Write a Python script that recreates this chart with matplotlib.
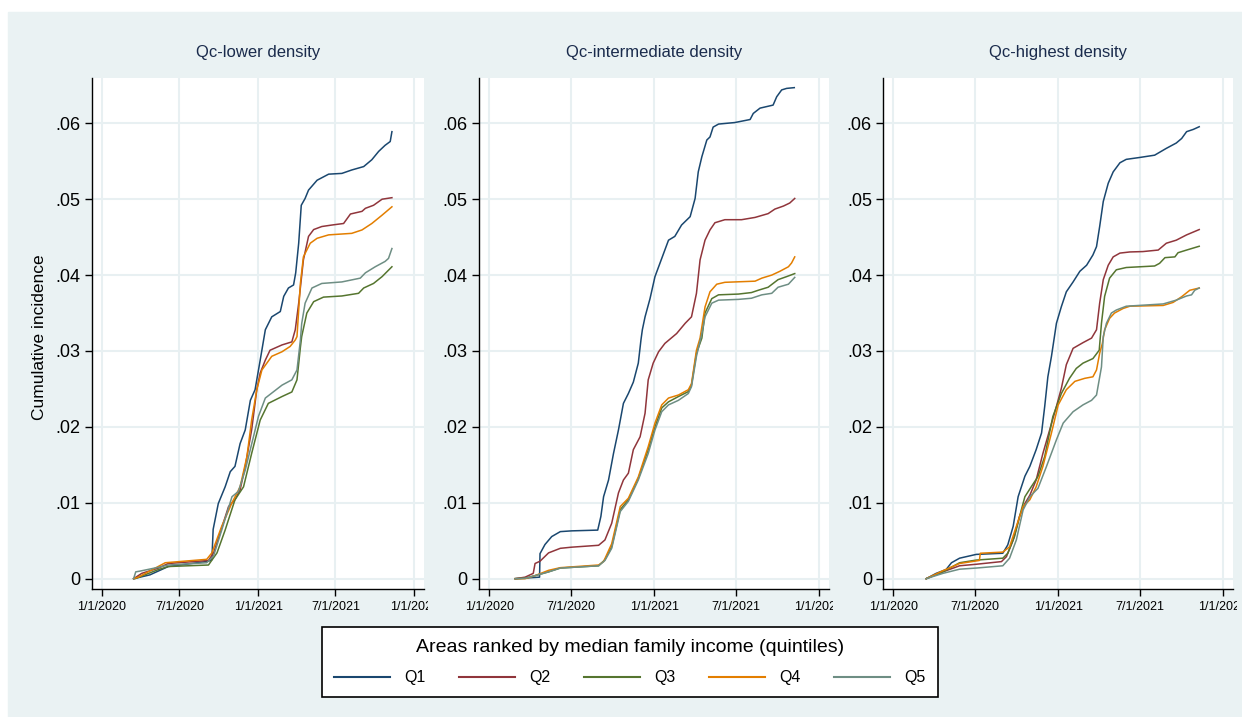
import numpy as np
import matplotlib
matplotlib.use("Agg")
import matplotlib.pyplot as plt
from matplotlib.patches import Rectangle
from matplotlib.transforms import Bbox, TransformedBbox

plt.rcParams['font.family'] = ['Liberation Sans', 'DejaVu Sans']

# panels and series
panel_titles = ["Qc-lower density", "Qc-intermediate density", "Qc-highest density"]
series_names = ["Q1", "Q2", "Q3", "Q4", "Q5"]
series_colors = ["#1a476f", "#90353b", "#55752f", "#e37e00", "#6e8e84"]
legend_title = "Areas ranked by median family income (quintiles)"

# days since 1/1/2020 and cumulative incidence (per 1000)
lower_q1_days = [75, 113, 156, 250, 258, 261, 273, 289, 301, 312, 324, 336, 348, 359, 371, 383, 398, 418, 426, 437, 449, 454, 461, 467, 476, 484, 504, 531, 562, 585, 613, 632, 648, 663, 675, 679]
lower_q1_vals = [0, 0.5, 1.6, 2.3, 2.5, 6.5, 9.9, 12.1, 14.1, 14.8, 17.8, 19.6, 23.5, 24.9, 28.8, 32.8, 34.5, 35.2, 37.2, 38.3, 38.7, 40.3, 44.2, 49.2, 50.1, 51.2, 52.5, 53.3, 53.4, 53.85, 54.3, 55.2, 56.3, 57.1, 57.6, 58.9]
lower_q2_days = [75, 94, 133, 156, 250, 262, 277, 297, 312, 324, 336, 351, 363, 371, 383, 394, 422, 445, 453, 461, 472, 484, 496, 515, 539, 566, 582, 609, 617, 636, 656, 679]
lower_q2_vals = [0, 0.7, 1.4, 2.0, 2.4, 3.4, 6.0, 9.5, 10.4, 11.7, 14.8, 19.6, 24.9, 27.1, 28.8, 30.1, 30.8, 31.2, 32.8, 36.3, 42.0, 45.1, 46.0, 46.4, 46.6, 46.8, 48.05, 48.4, 48.8, 49.2, 50.0, 50.2]
lower_q3_days = [78, 133, 156, 250, 270, 289, 312, 332, 351, 371, 390, 422, 445, 457, 465, 468, 480, 496, 519, 562, 601, 613, 636, 656, 679]
lower_q3_vals = [0, 1.2, 1.6, 1.8, 3.4, 6.4, 10.4, 12.1, 16.5, 20.9, 23.1, 24.0, 24.6, 26.2, 30.5, 31.9, 35.0, 36.5, 37.1, 37.25, 37.6, 38.3, 38.9, 39.8, 41.1]
lower_q4_days = [75, 86, 149, 246, 258, 281, 305, 324, 340, 351, 363, 375, 398, 422, 441, 453, 457, 465, 472, 488, 504, 531, 585, 609, 632, 656, 679]
lower_q4_vals = [0, 0.2, 2.1, 2.55, 3.4, 6.9, 10.0, 12.1, 16.1, 20.9, 24.9, 27.5, 29.3, 29.9, 30.6, 31.45, 31.9, 38.9, 42.4, 44.2, 44.85, 45.3, 45.5, 45.95, 46.8, 47.9, 49.0]
lower_q5_days = [75, 80, 90, 133, 156, 246, 262, 281, 305, 320, 336, 367, 383, 422, 445, 457, 465, 468, 476, 492, 515, 562, 605, 617, 640, 663, 671, 679]
lower_q5_vals = [0, 0.9, 1.0, 1.5, 1.8, 2.1, 3.0, 6.4, 10.8, 11.5, 14.3, 21.4, 23.8, 25.5, 26.2, 27.5, 31.45, 33.6, 36.3, 38.3, 38.9, 39.1, 39.6, 40.3, 41.1, 41.8, 42.2, 43.5]

mid_q1_days = [58, 112, 113, 124, 139, 158, 183, 241, 248, 254, 265, 276, 287, 298, 309, 320, 331, 337, 340, 346, 357, 368, 383, 398, 412, 427, 446, 457, 464, 472, 483, 490, 497, 509, 545, 579, 586, 601, 630, 638, 649, 660, 677]
mid_q1_vals = [0, 0.2, 3.3, 4.5, 5.55, 6.2, 6.3, 6.4, 8.2, 10.8, 13.0, 16.5, 19.6, 23.1, 24.4, 25.9, 28.4, 31.5, 32.8, 34.5, 36.9, 39.8, 42.2, 44.6, 45.1, 46.6, 47.7, 50.1, 53.6, 55.6, 57.8, 58.2, 59.5, 59.9, 60.1, 60.5, 61.3, 62.0, 62.4, 63.5, 64.4, 64.6, 64.7]
mid_q2_days = [58, 80, 98, 102, 113, 132, 158, 183, 243, 257, 272, 287, 298, 309, 320, 335, 346, 353, 364, 376, 390, 416, 435, 449, 460, 468, 479, 490, 501, 523, 560, 590, 619, 634, 653, 667, 678]
mid_q2_vals = [0, 0.2, 0.7, 2.0, 2.3, 3.4, 4.0, 4.15, 4.4, 5.1, 7.3, 11.3, 13.0, 13.9, 17.0, 18.7, 21.8, 26.2, 28.4, 29.9, 31.0, 32.3, 33.65, 34.5, 37.6, 42.0, 44.6, 45.95, 46.9, 47.3, 47.3, 47.6, 48.1, 48.7, 49.1, 49.5, 50.1]
mid_q3_days = [58, 80, 102, 132, 158, 243, 257, 272, 291, 309, 331, 353, 368, 383, 398, 420, 442, 449, 460, 472, 479, 494, 509, 553, 582, 597, 619, 641, 660, 678]
mid_q3_vals = [0, 0.05, 0.4, 0.9, 1.4, 1.7, 2.5, 4.2, 9.1, 10.4, 13.2, 17.0, 20.0, 22.5, 23.3, 24.0, 24.65, 25.5, 29.7, 31.7, 35.0, 36.9, 37.4, 37.5, 37.7, 38.0, 38.4, 39.4, 39.8, 40.2]
mid_q4_days = [58, 80, 102, 132, 158, 243, 254, 272, 291, 309, 331, 353, 368, 383, 398, 420, 442, 449, 460, 468, 479, 490, 505, 523, 590, 605, 627, 645, 664, 671, 678]
mid_q4_vals = [0, 0, 0.4, 1.1, 1.45, 1.8, 2.25, 4.6, 9.5, 10.6, 13.4, 17.4, 20.5, 22.9, 23.8, 24.2, 24.9, 25.7, 30.1, 31.7, 35.8, 37.8, 38.8, 39.05, 39.2, 39.6, 40.0, 40.5, 41.1, 41.6, 42.4]
mid_q5_days = [58, 80, 102, 132, 158, 243, 257, 272, 291, 309, 331, 353, 368, 383, 398, 420, 442, 449, 460, 472, 479, 494, 509, 553, 582, 605, 627, 641, 664, 678]
mid_q5_vals = [0, 0.05, 0.4, 0.9, 1.4, 1.7, 2.4, 4.0, 8.85, 10.2, 13.0, 16.5, 19.6, 22.0, 22.9, 23.5, 24.4, 25.3, 29.3, 32.3, 34.5, 36.3, 36.7, 36.8, 36.95, 37.4, 37.6, 38.4, 38.8, 39.7]

high_q1_days = [73, 95, 117, 129, 147, 184, 243, 254, 266, 277, 292, 303, 317, 329, 336, 343, 351, 362, 373, 384, 399, 414, 429, 443, 451, 458, 466, 477, 488, 503, 517, 547, 580, 606, 628, 640, 651, 666, 679]
high_q1_vals = [0, 0.7, 1.2, 2.1, 2.7, 3.2, 3.35, 4.45, 6.9, 10.8, 13.5, 14.8, 17.0, 19.2, 22.7, 26.6, 29.3, 33.65, 35.85, 37.8, 39.1, 40.5, 41.3, 42.65, 43.75, 46.4, 49.7, 52.1, 53.6, 54.8, 55.25, 55.5, 55.8, 56.7, 57.4, 58.0, 58.9, 59.2, 59.55]
high_q2_days = [73, 110, 147, 184, 240, 251, 266, 280, 292, 303, 317, 332, 347, 362, 373, 384, 399, 421, 440, 451, 458, 466, 477, 488, 503, 525, 554, 588, 606, 628, 651, 679]
high_q2_vals = [0, 0.9, 1.7, 1.9, 2.25, 2.9, 5.1, 8.2, 9.9, 11.0, 13.0, 16.5, 19.6, 22.7, 25.1, 28.2, 30.35, 31.1, 31.7, 32.8, 36.3, 39.4, 41.3, 42.4, 42.9, 43.05, 43.1, 43.3, 44.2, 44.6, 45.3, 46.0]
high_q3_days = [73, 110, 147, 184, 243, 254, 269, 284, 292, 306, 321, 336, 354, 373, 391, 406, 421, 443, 457, 462, 469, 480, 495, 517, 580, 591, 603, 625, 632, 651, 679]
high_q3_vals = [0, 0.9, 2.1, 2.45, 2.7, 3.35, 5.55, 9.05, 10.8, 12.1, 13.45, 16.1, 21.35, 24.4, 26.4, 27.7, 28.4, 29.0, 30.1, 33.65, 37.2, 39.6, 40.7, 41.0, 41.2, 41.55, 42.3, 42.4, 42.95, 43.3, 43.8]
high_q4_days = [73, 110, 147, 191, 193, 243, 258, 273, 288, 303, 317, 332, 351, 366, 384, 403, 425, 443, 451, 458, 464, 469, 480, 491, 510, 525, 599, 621, 640, 658, 679]
high_q4_vals = [0, 1.05, 2.0, 2.4, 3.35, 3.5, 4.2, 6.9, 9.5, 10.4, 12.1, 14.8, 19.2, 22.9, 24.9, 26.0, 26.4, 26.6, 27.5, 29.7, 31.0, 32.8, 34.3, 35.0, 35.6, 35.9, 36.0, 36.4, 37.15, 38.0, 38.3]
high_q5_days = [73, 110, 147, 184, 243, 258, 273, 288, 303, 321, 340, 362, 377, 399, 421, 440, 451, 462, 466, 473, 484, 495, 517, 599, 628, 651, 662, 669, 679]
high_q5_vals = [0, 0.7, 1.25, 1.4, 1.7, 2.7, 5.1, 9.05, 10.8, 11.9, 14.8, 18.3, 20.5, 22.0, 22.9, 23.5, 24.2, 27.9, 31.9, 33.65, 35.0, 35.4, 35.9, 36.2, 36.7, 37.25, 37.4, 38.0, 38.3]

panels = [
    [(lower_q1_days, lower_q1_vals), (lower_q2_days, lower_q2_vals), (lower_q3_days, lower_q3_vals),
     (lower_q4_days, lower_q4_vals), (lower_q5_days, lower_q5_vals)],
    [(mid_q1_days, mid_q1_vals), (mid_q2_days, mid_q2_vals), (mid_q3_days, mid_q3_vals),
     (mid_q4_days, mid_q4_vals), (mid_q5_days, mid_q5_vals)],
    [(high_q1_days, high_q1_vals), (high_q2_days, high_q2_vals), (high_q3_days, high_q3_vals),
     (high_q4_days, high_q4_vals), (high_q5_days, high_q5_vals)],
]

y_ticks = [0, 0.01, 0.02, 0.03, 0.04, 0.05, 0.06]
y_ticklabels = ["0", ".01", ".02", ".03", ".04", ".05", ".06"]
x_ticks = ["2020-01-01", "2020-07-01", "2021-01-01", "2021-07-01", "2022-01-01"]
x_ticklabels = ["1/1/2020", "7/1/2020", "1/1/2021", "7/1/2021", "1/1/2022"]

start = np.datetime64("2020-01-01")
bg = "#EAF2F3"
W, H = 1242, 717

fig = plt.figure(figsize=(W / 100, H / 100), dpi=100)
fig.patches.append(Rectangle((8 / W, 0), 1 - 8 / W, (H - 12) / H, transform=fig.transFigure,
                             color=bg, zorder=-10))

# pixel boxes of the plot regions (left, right)
boxes = [(91.7, 424), (478.7, 829), (883, 1233)]
top, bottom = 78, 589

handles = []
for k, (l, r) in enumerate(boxes):
    ax = fig.add_axes([l / W, 1 - bottom / H, (r - l) / W, (bottom - top) / H])
    ax.set_facecolor("white")
    for (days, vals), c in zip(panels[k], series_colors):
        x = start + np.array(days).astype("timedelta64[D]")
        line, = ax.plot(x, np.array(vals) / 1000, color=c, lw=1.1)
        if k == 0:
            handles.append(line)
    ax.set_xlim(start - np.timedelta64(23, "D"), start + np.timedelta64(754, "D"))
    ax.set_ylim(-0.00136, 0.06597)
    ax.set_yticks(y_ticks)
    ax.set_yticklabels(y_ticklabels, fontsize=13)
    ax.set_xticks(np.array(x_ticks, dtype="datetime64[D]"))
    ax.set_xticklabels(x_ticklabels, fontsize=9)
    ax.grid(True, color="#E8F0F2", lw=1.5)
    ax.set_axisbelow(True)
    for s in ["top", "right"]:
        ax.spines[s].set_visible(False)
    for s in ["left", "bottom"]:
        ax.spines[s].set_linewidth(1.0)
    ax.tick_params(axis="y", length=5, width=1, pad=3)
    ax.tick_params(axis="x", length=5, width=1, pad=4)
    clip = TransformedBbox(Bbox.from_extents(0, 0, (r + 4) / W, 1), fig.transFigure)
    for t in ax.xaxis.get_major_ticks():
        t.label1.set_clip_box(clip)
        t.label1.set_clip_on(True)
    fig.text((l + r) / 2 / W, 1 - 52 / H, panel_titles[k], ha="center", va="center",
             fontsize=12, color="#1a2b4c")

fig.text(40 / W, 1 - 337 / H, "Cumulative incidence", rotation=90, ha="center", va="center",
         fontsize=12.5)

leg = fig.legend(handles, series_names, loc="center", bbox_to_anchor=(630 / W, 1 - 662 / H),
                 ncol=5, title=legend_title, fontsize=11.5, title_fontsize=14,
                 frameon=True, fancybox=False, framealpha=1, edgecolor="black",
                 handlelength=3.5, handletextpad=0.9, columnspacing=2.1, borderpad=0.75,
                 labelspacing=0.9)
leg.get_frame().set_linewidth(1.2)
for h in leg.get_lines():
    h.set_linewidth(1.5)

fig.savefig("out.png", dpi=100, facecolor="white")
